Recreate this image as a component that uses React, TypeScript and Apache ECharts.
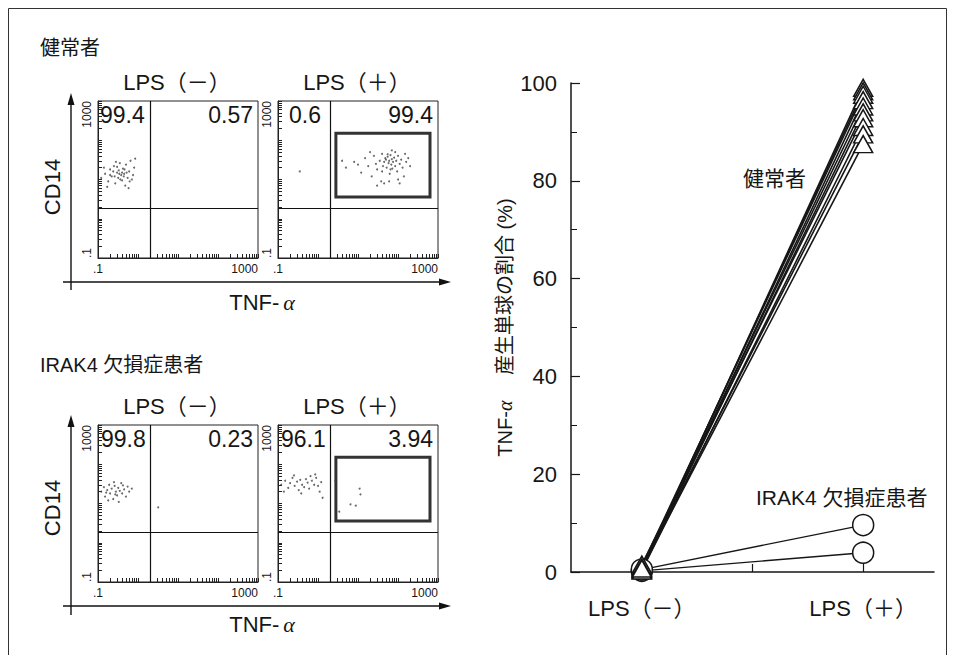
import React, { useEffect, useRef } from "react";
import * as echarts from "echarts";

// ---------- data ----------
const conditions = ["LPS（－）", "LPS（＋）"];
const groupNames = ["健常者", "IRAK4 欠損症患者"];

// right chart: % TNF-α producing monocytes
const healthyNeg = [0.57, 0.8, 1.2, 0.4, 1.0, 0.6, 1.5, 0.3, 0.9, 0.7];
const healthyPos = [99.0, 98.3, 97.6, 96.5, 95.2, 94.0, 92.8, 91.0, 89.5, 87.5];
const irakNeg = [0.23, 0.5];
const irakPos = [3.94, 9.6];
const mainYTicks = [0, 20, 40, 60, 80, 100];

// flow cytometry panels
const flowTickValues = [0.1, 1000];
const flowTickLabels = [".1", "1000"];
const quadrantTNF = 2;
const quadrantCD14 = 1.9;
const gateTNF = [2.8, 631];
const gateCD14 = [3.6, 151];
const quadUpperLeft = ["99.4", "0.6", "99.8", "96.1"];
const quadUpperRight = ["0.57", "99.4", "0.23", "3.94"];
const panelHasGate = [false, true, false, true];

// [TNF-α, CD14]
const dotsHealthyNeg = [
  [0.15, 14], [0.18, 9], [0.2, 18], [0.22, 12], [0.25, 22], [0.27, 8], [0.3, 15], [0.32, 11],
  [0.35, 26], [0.38, 13], [0.4, 9.5], [0.42, 19], [0.45, 14], [0.48, 7], [0.5, 24], [0.55, 11],
  [0.6, 16], [0.65, 30], [0.7, 10], [0.8, 20], [0.12, 11], [0.14, 20], [0.17, 6.5], [0.24, 16],
  [0.28, 28], [0.33, 17], [0.36, 10], [0.44, 12], [0.52, 15], [0.58, 6], [0.75, 13], [0.85, 34],
  [0.2, 13], [0.3, 21], [0.4, 15], [0.26, 12], [0.34, 14], [0.46, 18], [0.62, 9],
];
const dotsHealthyPos = [
  [5, 20], [8, 28], [12, 15], [15, 35], [18, 22], [22, 12], [25, 40], [28, 25], [30, 18], [35, 30],
  [38, 9], [40, 45], [42, 22], [45, 28], [48, 35], [50, 32], [52, 20], [55, 38], [58, 26], [60, 30],
  [62, 14], [65, 42], [68, 24], [70, 33], [72, 19], [75, 28], [80, 36], [85, 22], [90, 30], [95, 16],
  [100, 40], [110, 25], [120, 32], [130, 20], [140, 12], [160, 28], [180, 35], [200, 22], [45, 8],
  [30, 7], [60, 9], [100, 10], [70, 55], [20, 50], [10, 24], [55, 44], [85, 50], [150, 45], [40, 16],
  [65, 18], [4, 30], [110, 8], [0.35, 16],
];
const dotsIrakNeg = [
  [0.12, 20], [0.14, 26], [0.15, 15], [0.17, 22], [0.19, 30], [0.2, 18], [0.22, 24], [0.24, 13],
  [0.26, 28], [0.28, 20], [0.3, 16], [0.32, 25], [0.35, 21], [0.38, 33], [0.4, 18], [0.45, 23],
  [0.5, 15], [0.55, 27], [0.6, 20], [0.7, 24], [0.18, 12], [0.25, 35], [0.33, 11], [0.42, 29],
  [0.16, 19], [0.27, 17], [3.2, 8],
];
const dotsIrakPos = [
  [0.12, 30], [0.15, 38], [0.18, 25], [0.2, 33], [0.23, 45], [0.26, 28], [0.3, 36], [0.33, 22],
  [0.36, 40], [0.4, 30], [0.45, 26], [0.5, 42], [0.55, 34], [0.6, 24], [0.7, 38], [0.8, 30],
  [0.9, 45], [1.0, 28], [1.2, 35], [1.3, 14], [1.1, 20], [0.25, 52], [0.65, 50], [0.14, 20],
  [0.38, 18], [0.85, 55], [2.7, 38], [11, 24], [11.5, 17], [3.4, 6.2], [6.5, 9.5], [8.8, 8.8],
];
const panelDots = [dotsHealthyNeg, dotsHealthyPos, dotsIrakNeg, dotsIrakPos];

// ---------- layout ----------
const FONT = '"Liberation Sans", "Noto Sans CJK JP", sans-serif';
const INK = "#161616";
const panels = [
  { left: 98, top: 101, ulDx: 2 },
  { left: 278, top: 101, ulDx: 11 },
  { left: 98, top: 425, ulDx: 3 },
  { left: 278, top: 425, ulDx: 3 },
];
const PW = 160;
const PH = 157;
const rows = [
  { label: 40, labelY: 48, vArrowTop: 93, vArrowBottom: 290, hArrowY: 282, tnfY: 302, cd14Y: 187 },
  { label: 40, labelY: 365, vArrowTop: 415, vArrowBottom: 615, hArrowY: 606, tnfY: 624, cd14Y: 508 },
];

const L = (v: number) => Math.log10(v);

function flowMinorTicks(): number[] {
  const out: number[] = [];
  for (let d = -1; d < 3; d++) {
    for (let k = 1; k <= 9; k++) out.push(d + Math.log10(k));
  }
  out.push(3);
  return out;
}

function flowLabel(v: number) {
  const i = flowTickValues.findIndex((t) => Math.abs(L(t) - v) < 1e-6);
  return i >= 0 ? flowTickLabels[i] : "";
}

function buildOption() {
  const grid: any[] = [];
  const xAxis: any[] = [];
  const yAxis: any[] = [];
  const series: any[] = [];
  const graphic: any[] = [];
  const ticks = flowMinorTicks();

  panels.forEach((p, i) => {
    grid.push({
      left: p.left, top: p.top, width: PW, height: PH,
      show: true, borderColor: "#222", borderWidth: 1, backgroundColor: "transparent",
    });
    const common = {
      type: "value", gridIndex: i, min: -1, max: 3, interval: 1,
      splitLine: { show: false },
      axisLine: { show: true, onZero: false, lineStyle: { color: "#222", width: 1 } },
      axisTick: { show: true, inside: true, length: 4, customValues: ticks, lineStyle: { color: "#222", width: 1 } },
    };
    xAxis.push({
      ...common,
      axisLabel: {
        customValues: flowTickValues.map(L), formatter: flowLabel, fontSize: 12, margin: 5,
        color: INK, fontFamily: FONT, alignMinLabel: "center", alignMaxLabel: "right",
      },
    });
    yAxis.push({
      ...common,
      axisLabel: {
        customValues: flowTickValues.map(L), formatter: flowLabel, fontSize: 12, margin: 5, rotate: 90,
        color: INK, fontFamily: FONT, alignMinLabel: "left", alignMaxLabel: "right",
      },
    });
    const s: any = {
      type: "scatter", xAxisIndex: i, yAxisIndex: i, silent: true,
      symbolSize: 2, itemStyle: { color: "#444" },
      data: panelDots[i].map(([t, c]) => [L(t), L(c)]),
      markLine: {
        silent: true, symbol: "none", label: { show: false },
        lineStyle: { color: "#111", width: 1.2, type: "solid" },
        data: [{ xAxis: L(quadrantTNF) }, { yAxis: L(quadrantCD14) }],
      },
    };
    if (panelHasGate[i]) {
      s.markArea = {
        silent: true,
        itemStyle: { color: "rgba(0,0,0,0)", borderColor: "#333", borderWidth: 3 },
        data: [[{ coord: [L(gateTNF[0]), L(gateCD14[0])] }, { coord: [L(gateTNF[1]), L(gateCD14[1])] }]],
      };
    }
    series.push(s);

    // quadrant percentages
    graphic.push({
      type: "text", x: p.left + p.ulDx, y: p.top + 14,
      style: { text: quadUpperLeft[i], fontSize: 23, fontFamily: FONT, fill: INK, align: "left", verticalAlign: "middle" },
    });
    graphic.push({
      type: "text", x: p.left + PW - 5, y: p.top + 14,
      style: { text: quadUpperRight[i], fontSize: 23, fontFamily: FONT, fill: INK, align: "right", verticalAlign: "middle" },
    });
    // condition title
    graphic.push({
      type: "text", x: p.left + PW / 2 - 1, y: p.top - 19,
      style: { text: conditions[i % 2], fontSize: 22, fontFamily: FONT, fill: INK, align: "center", verticalAlign: "middle" },
    });
  });

  rows.forEach((r, ri) => {
    graphic.push({
      type: "text", x: r.label, y: r.labelY,
      style: { text: groupNames[ri], fontSize: 20, fontFamily: FONT, fill: INK, align: "left", verticalAlign: "middle" },
    });
    // vertical arrow (CD14)
    graphic.push({ type: "line", shape: { x1: 71, y1: r.vArrowTop + 10, x2: 71, y2: r.vArrowBottom }, style: { stroke: "#111", lineWidth: 1.4 } });
    graphic.push({ type: "polygon", shape: { points: [[71, r.vArrowTop], [67.5, r.vArrowTop + 12], [74.5, r.vArrowTop + 12]] }, style: { fill: "#111" } });
    // horizontal arrow (TNF-α)
    graphic.push({ type: "line", shape: { x1: 63, y1: r.hArrowY, x2: 440, y2: r.hArrowY }, style: { stroke: "#111", lineWidth: 1.4 } });
    graphic.push({ type: "polygon", shape: { points: [[451, r.hArrowY], [439, r.hArrowY - 3.5], [439, r.hArrowY + 3.5]] }, style: { fill: "#111" } });
    graphic.push({
      type: "text", x: 52, y: r.cd14Y, rotation: Math.PI / 2,
      style: { text: "CD14", fontSize: 22, fontFamily: FONT, fill: INK, align: "center", verticalAlign: "middle" },
    });
    graphic.push({
      type: "text", x: 262, y: r.tnfY,
      style: {
        text: "TNF-{a|α}", fontSize: 22, fontFamily: FONT, fill: INK, align: "center", verticalAlign: "middle",
        rich: { a: { fontSize: 22, fontStyle: "italic", fontFamily: '"Liberation Serif", serif', fill: INK, padding: [0, 0, 0, 4] } },
      },
    });
  });

  // main chart
  const MI = panels.length;
  grid.push({ left: 571, top: 83, width: 363, height: 489 });
  xAxis.push({
    type: "value", gridIndex: MI, min: -0.32, max: 1.32,
    splitLine: { show: false },
    axisLine: { show: true, onZero: false, lineStyle: { color: INK, width: 1.5 } },
    axisTick: { show: true, inside: true, length: 8, customValues: [0.5, 1], lineStyle: { color: INK, width: 1.2 } },
    axisLabel: {
      customValues: [0, 1], formatter: (v: number) => conditions[Math.round(v)] ?? "",
      fontSize: 22, margin: 25, color: INK, fontFamily: FONT,
    },
  });
  yAxis.push({
    type: "value", gridIndex: MI, min: mainYTicks[0], max: mainYTicks[mainYTicks.length - 1], interval: 20,
    splitLine: { show: false },
    axisLine: { show: true, onZero: false, lineStyle: { color: INK, width: 1.5 } },
    axisTick: { show: true, inside: true, length: 9, lineStyle: { color: INK, width: 1.2 } },
    minorTick: { show: true, splitNumber: 2, length: 6, lineStyle: { color: INK, width: 1 } },
    axisLabel: { fontSize: 22, margin: 14, color: INK, fontFamily: FONT },
    name: "TNF-{a|α}　 産生単球の割合 (%)",
    nameLocation: "middle", nameGap: 56, nameRotate: 90,
    nameTextStyle: {
      fontSize: 20, color: INK, fontFamily: FONT,
      rich: { a: { fontSize: 20, fontStyle: "italic", fontFamily: '"Liberation Serif", serif', color: INK } },
    },
  });

  irakNeg.forEach((v0, i) => {
    series.push({
      type: "line", xAxisIndex: MI, yAxisIndex: MI, silent: true,
      data: [[0, v0], [1, irakPos[i]]],
      symbol: "circle", symbolSize: 21,
      itemStyle: { color: "#fff", borderColor: INK, borderWidth: 1.5 },
      lineStyle: { color: INK, width: 1.3 },
    });
  });
  healthyNeg.forEach((v0, i) => {
    series.push({
      type: "line", xAxisIndex: MI, yAxisIndex: MI, silent: true,
      data: [[0, v0], [1, healthyPos[i]]],
      symbol: "triangle", symbolSize: [19, 17],
      itemStyle: { color: "#fff", borderColor: INK, borderWidth: 1.5 },
      lineStyle: { color: INK, width: 1.6 },
    });
  });

  graphic.push({
    type: "text", x: 743, y: 178,
    style: { text: groupNames[0], fontSize: 21, fontFamily: FONT, fill: INK, align: "left", verticalAlign: "middle" },
  });
  graphic.push({
    type: "text", x: 756, y: 497,
    style: { text: groupNames[1], fontSize: 21, fontFamily: FONT, fill: INK, align: "left", verticalAlign: "middle" },
  });

  // outer frame
  graphic.push({
    type: "rect", z: -1, shape: { x: 8.5, y: 8.5, width: 938, height: 660 },
    style: { fill: "none", stroke: "#333", lineWidth: 1 },
  });

  return {
    animation: false,
    backgroundColor: "#fff",
    textStyle: { fontFamily: FONT },
    grid, xAxis, yAxis, series, graphic,
  };
}

export default function App() {
  const ref = useRef<HTMLDivElement>(null);
  useEffect(() => {
    if (!ref.current) return;
    const chart = echarts.init(ref.current, undefined, { renderer: "svg" });
    chart.setOption(buildOption() as any);
    return () => chart.dispose();
  }, []);
  return (
    <div
      ref={ref}
      style={{ position: "fixed", left: 0, top: 0, width: 955, height: 655, background: "#fff" }}
    />
  );
}
